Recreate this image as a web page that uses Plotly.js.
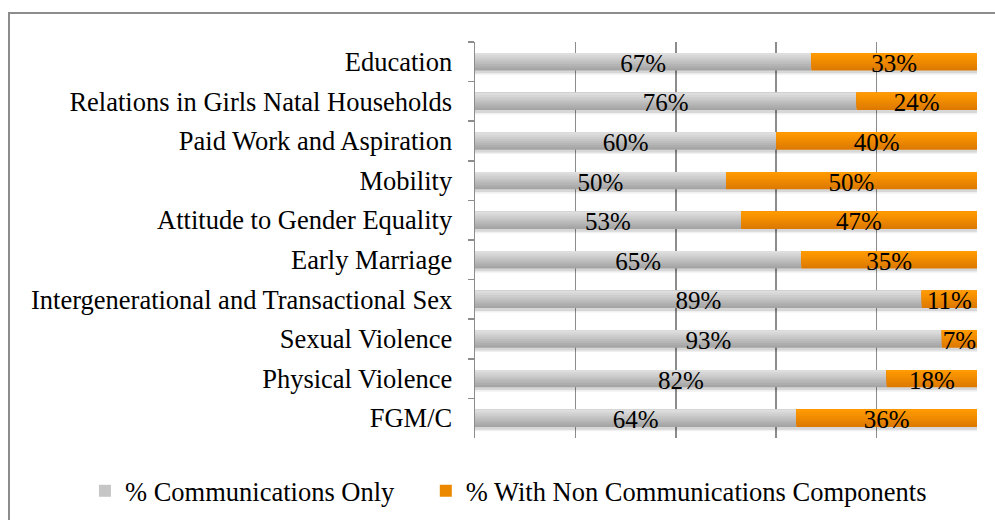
<!DOCTYPE html>
<html>
<head>
<meta charset="utf-8">
<script src="https://cdn.plot.ly/plotly-3.0.1.min.js"></script>
<style>
  html, body { margin: 0; padding: 0; background: #ffffff; }
  #chart { position: absolute; left: 0; top: 0; width: 995px; height: 520px; }
  #frame { position: absolute; left: 8px; top: 12px; width: 1000px; height: 520px;
           border-left: 2px solid #8c8c8c; border-top: 2px solid #8c8c8c; pointer-events: none; }
</style>
</head>
<body>
<div id="chart"></div>
<div id="frame"></div>
<script>
// ---- data ----
var categories = [
  "Education",
  "Relations in Girls Natal Households",
  "Paid Work and Aspiration",
  "Mobility",
  "Attitude to Gender Equality",
  "Early Marriage",
  "Intergenerational and Transactional Sex",
  "Sexual Violence",
  "Physical Violence",
  "FGM/C"
];
var commsOnly = [67, 76, 60, 50, 53, 65, 89, 93, 82, 64];
var withNonComms = [33, 24, 40, 50, 47, 35, 11, 7, 18, 36];
var seriesNames = ["% Communications Only", "% With Non Communications Components"];

// ---- style ----
var FONT = "Liberation Serif, Times New Roman, serif";
var W = 0.44;          // bar thickness in category units
var N = 8;             // gradient layers
var grayTop = [222, 222, 222], grayBot = [165, 165, 165];
var orTop = [255, 154, 0], orBot = [222, 122, 0];

function mix(a, b, t) {
  return "rgb(" + a.map(function (v, i) { return Math.round(v + (b[i] - v) * t); }).join(",") + ")";
}

var totals = commsOnly.map(function (v, i) { return v + withNonComms[i]; });
var zeros = commsOnly.map(function () { return 0; });

var traces = [];

// soft shadow under bars
[[0.035, 0.07, "rgba(0,0,0,0.10)"], [0.06, 0.11, "rgba(0,0,0,0.06)"]].forEach(function (s) {
  traces.push({
    type: "bar", orientation: "h", y: categories, x: totals, base: zeros,
    offset: -W / 2 + s[0], width: W + s[1] - s[0],
    marker: { color: s[2], line: { width: 0 } },
    hoverinfo: "skip", showlegend: false
  });
});

function layers(xs, bases, top, bot, name, legendIdx, legendId) {
  for (var k = 0; k < N; k++) {
    var t = k / (N - 1);
    traces.push({
      type: "bar", orientation: "h", y: categories, x: xs, base: bases,
      offset: -W / 2, width: W * (1 - k / N),
      marker: { color: mix(bot, top, t), line: { width: 0 } },
      name: name, legendgroup: name, legend: legendId,
      showlegend: k === legendIdx,
      hoverinfo: "skip"
    });
  }
}
layers(commsOnly, zeros, grayTop, grayBot, seriesNames[0], 4, "legend");
layers(withNonComms, commsOnly, orTop, orBot, seriesNames[1], 3, "legend2");

// labels
function labels(xs, bases) {
  traces.push({
    type: "bar", orientation: "h", y: categories, x: xs, base: bases,
    offset: -W / 2 + 0.04, width: W,
    marker: { color: "rgba(0,0,0,0)", line: { width: 0 } },
    text: xs.map(function (v) { return v + "%"; }),
    textposition: "inside", insidetextanchor: "middle", constraintext: "none",
    textfont: { family: FONT, size: 25, color: "#000000" },
    hoverinfo: "skip", showlegend: false
  });
}
labels(commsOnly, zeros);
labels(withNonComms, commsOnly);

var legendFont = { family: FONT, size: 26.5, color: "#000000" };

var layout = {
  width: 995, height: 520,
  margin: { l: 475, r: 18, t: 42, b: 82, pad: 0, autoexpand: false },
  paper_bgcolor: "rgba(0,0,0,0)", plot_bgcolor: "rgba(0,0,0,0)",
  barmode: "overlay",
  font: { family: FONT, size: 26, color: "#000000" },
  xaxis: {
    range: [0, 100], dtick: 20, showticklabels: false, ticks: "",
    showgrid: true, gridcolor: "#8c8c8c", gridwidth: 1.5, zeroline: false, showline: false,
    fixedrange: true
  },
  yaxis: {
    type: "category", range: [9.5, -0.5],
    showline: true, linecolor: "#8c8c8c", linewidth: 1.5,
    ticks: "outside", tickson: "boundaries", ticklen: 6, tickcolor: "#8c8c8c", tickwidth: 1.5,
    ticklabelstandoff: 16,
    tickfont: { family: FONT, size: 26.5, color: "#000000" },
    showgrid: false, zeroline: false, fixedrange: true
  },
  showlegend: true,
  legend: {
    orientation: "h",
    x: -0.777, xanchor: "left", y: -0.134, yanchor: "middle",
    font: legendFont, bgcolor: "rgba(0,0,0,0)"
  },
  legend2: {
    orientation: "h",
    x: -0.098, xanchor: "left", y: -0.134, yanchor: "middle",
    font: legendFont, bgcolor: "rgba(0,0,0,0)"
  }
};

Plotly.newPlot("chart", traces, layout, { displayModeBar: false, staticPlot: true });
</script>
</body>
</html>
